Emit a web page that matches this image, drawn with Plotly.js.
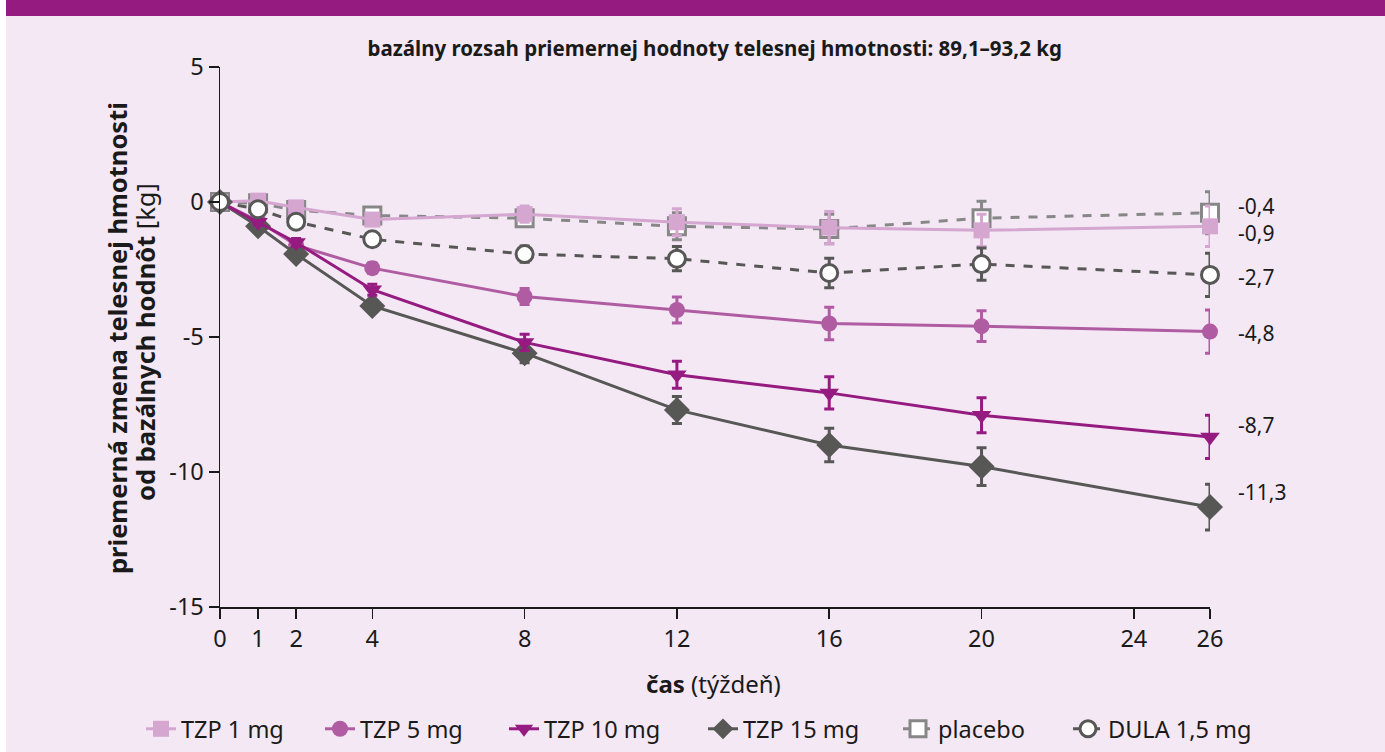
<!DOCTYPE html>
<html>
<head>
<meta charset="utf-8">
<script src="https://cdn.plot.ly/plotly-3.0.1.min.js"></script>
<style>html,body{margin:0;padding:0;background:#f3e8f4;}#chart{width:1385px;height:752px;}</style>
</head>
<body>
<div id="chart"></div>
<script>
// ---- data ----
const weeks = [0, 1, 2, 4, 8, 12, 16, 20, 26];
const xTicks = [0, 1, 2, 4, 8, 12, 16, 20, 24, 26];
const yTicks = [5, 0, -5, -10, -15];
const yTickText = ["5", "0", "-5", "-10", "-15"];

const tzp1 = [0, 0.05, -0.2, -0.65, -0.45, -0.75, -0.95, -1.05, -0.9];
const tzp1Err = [0, 0.1, 0.1, 0.15, 0.3, 0.5, 0.6, 0.6, 0.75];
const tzp5 = [0, -0.7, -1.6, -2.45, -3.5, -4.0, -4.5, -4.6, -4.8];
const tzp5Err = [0, 0.1, 0.15, 0.2, 0.3, 0.48, 0.6, 0.57, 0.8];
const tzp10 = [0, -0.75, -1.5, -3.25, -5.2, -6.4, -7.07, -7.9, -8.7];
const tzp10Err = [0, 0.1, 0.15, 0.2, 0.3, 0.5, 0.6, 0.65, 0.8];
const tzp15 = [0, -0.9, -1.93, -3.85, -5.6, -7.7, -9.0, -9.8, -11.3];
const tzp15Err = [0, 0.1, 0.15, 0.2, 0.35, 0.5, 0.62, 0.7, 0.85];
const placebo = [0, -0.05, -0.3, -0.5, -0.6, -0.9, -1.0, -0.6, -0.4];
const placeboErr = [0, 0.1, 0.1, 0.2, 0.3, 0.5, 0.55, 0.63, 0.78];
const dula = [0, -0.27, -0.73, -1.38, -1.93, -2.1, -2.63, -2.3, -2.7];
const dulaErr = [0, 0.1, 0.1, 0.2, 0.3, 0.45, 0.55, 0.6, 0.8];

const names = ["TZP 1 mg", "TZP 5 mg", "TZP 10 mg", "TZP 15 mg", "placebo", "DULA 1,5 mg"];
const titleText = "bazálny rozsah priemernej hodnoty telesnej hmotnosti: 89,1–93,2 kg";
const xTitle = "<b>čas</b> (týždeň)";
const yTitleLine1 = "<b>priemerná zmena telesnej hmotnosti</b>";
const yTitleLine2 = "<b>od bazálnych hodnôt</b> [kg]";

// ---- styles ----
const C1 = "#d4a6d0", C5 = "#b05ca2", C10 = "#951b81", C15 = "#575756", CP = "#878787", CD = "#575756";
const FONT = "Noto Sans, Open Sans, sans-serif";
const TXT = "#1a1a1a";

const W = 1385, H = 752, L = 220, R = 175, T = 67, B = 145;
const pw = W - L - R, ph = H - T - B;
const px2x = (px) => (px - L) / pw;          // horizontal pixel -> paper
const px2y = (py) => (H - B - py) / ph;      // vertical pixel -> paper

function tr(y, err, name, color, symbol, size, legendId, opts) {
  opts = opts || {};
  return {
    x: weeks, y: y, name: name, type: "scatter", mode: "lines+markers",
    cliponaxis: false, legend: legendId,
    line: {color: color, width: 3, dash: opts.dash || "solid"},
    marker: {symbol: symbol, size: size, color: opts.fill || color,
             line: {color: color, width: opts.mlw || 0}},
    error_y: {type: "data", array: err, visible: true, color: color, thickness: 3, width: 5}
  };
}

const data = [
  tr(placebo, placeboErr, names[4], CP, "square", 17, "legend5", {fill: "#ffffff", mlw: 3, dash: "dash"}),
  tr(tzp1, tzp1Err, names[0], C1, "square", 16, "legend"),
  tr(tzp5, tzp5Err, names[1], C5, "circle", 16, "legend2"),
  tr(tzp15, tzp15Err, names[3], C15, "diamond", 20, "legend4"),
  tr(tzp10, tzp10Err, names[2], C10, "triangle-down", 17, "legend3"),
  tr(dula, dulaErr, names[5], CD, "circle", 17, "legend6", {fill: "#ffffff", mlw: 3, dash: "dash"})
];

// end labels from the last value of each series
const endSeries = [placebo, tzp1, dula, tzp5, tzp10, tzp15];
const endShift = [7, -7, -2, -1, 12, 15];
const annotations = endSeries.map((s, i) => {
  const v = s[s.length - 1];
  return {
    x: weeks[weeks.length - 1], y: v, xref: "x", yref: "y",
    text: v.toFixed(1).replace(".", ","), showarrow: false, borderpad: 0,
    xanchor: "left", yanchor: "middle", xshift: 27, yshift: endShift[i],
    font: {family: FONT, size: 21, color: TXT}
  };
});
annotations.push(
  {text: xTitle, xref: "paper", yref: "paper", x: px2x(713), y: px2y(683),
   xanchor: "center", yanchor: "middle", showarrow: false,
   font: {family: FONT, size: 24, color: TXT}},
  {text: yTitleLine1, xref: "paper", yref: "paper", x: px2x(117), y: px2y(338),
   xanchor: "center", yanchor: "middle", showarrow: false, textangle: -90,
   font: {family: FONT, size: 25.5, color: TXT}},
  {text: yTitleLine2, xref: "paper", yref: "paper", x: px2x(145), y: px2y(342),
   xanchor: "center", yanchor: "middle", showarrow: false, textangle: -90,
   font: {family: FONT, size: 25.5, color: TXT}}
);

const shapes = [
  {type: "rect", xref: "paper", yref: "paper", layer: "below",
   x0: px2x(0), x1: px2x(W), y0: px2y(16), y1: px2y(0),
   fillcolor: "#951b81", line: {width: 0}},
  {type: "rect", xref: "paper", yref: "paper", layer: "below",
   x0: px2x(0), x1: px2x(6), y0: px2y(H), y1: px2y(0),
   fillcolor: "#ffffff", line: {width: 0}}
];

// one legend box per entry, so each entry sits where the reference has it
const legendStarts = [141, 320, 504, 703, 898, 1068];
function legendBox(px) {
  return {orientation: "h", x: px2x(px), xanchor: "left", y: px2y(729), yanchor: "middle",
          font: {family: FONT, size: 23.5, color: TXT}, bgcolor: "rgba(0,0,0,0)",
          itemwidth: 30};
}

const layout = {
  width: W, height: H,
  margin: {l: L, r: R, t: T, b: B, pad: 0, autoexpand: false},
  paper_bgcolor: "#f3e8f4", plot_bgcolor: "rgba(0,0,0,0)",
  font: {family: FONT, size: 22, color: TXT},
  title: {text: "<b>" + titleText + "</b>", x: 0.516, xanchor: "center",
          y: 1 - 49 / H, yanchor: "middle", yref: "container",
          font: {family: FONT, size: 20.5, color: TXT}},
  xaxis: {range: [0, 26], tickvals: xTicks, ticktext: xTicks.map(String),
          showgrid: false, zeroline: false, showline: true, linecolor: TXT, linewidth: 1.5,
          ticks: "outside", ticklen: 10, tickwidth: 1.5, tickcolor: TXT,
          tickfont: {size: 23.5}, fixedrange: true},
  yaxis: {range: [-15, 5], tickvals: yTicks, ticktext: yTickText,
          showgrid: false, zeroline: false, showline: true, linecolor: TXT, linewidth: 1.5,
          ticks: "outside", ticklen: 10, tickwidth: 1.5, tickcolor: TXT,
          tickfont: {size: 23.5}, fixedrange: true},
  showlegend: true,
  legend: legendBox(legendStarts[0]),
  legend2: legendBox(legendStarts[1]),
  legend3: legendBox(legendStarts[2]),
  legend4: legendBox(legendStarts[3]),
  legend5: legendBox(legendStarts[4]),
  legend6: legendBox(legendStarts[5]),
  shapes: shapes,
  annotations: annotations
};

Plotly.newPlot("chart", data, layout, {displayModeBar: false, staticPlot: true});
</script>
</body>
</html>
